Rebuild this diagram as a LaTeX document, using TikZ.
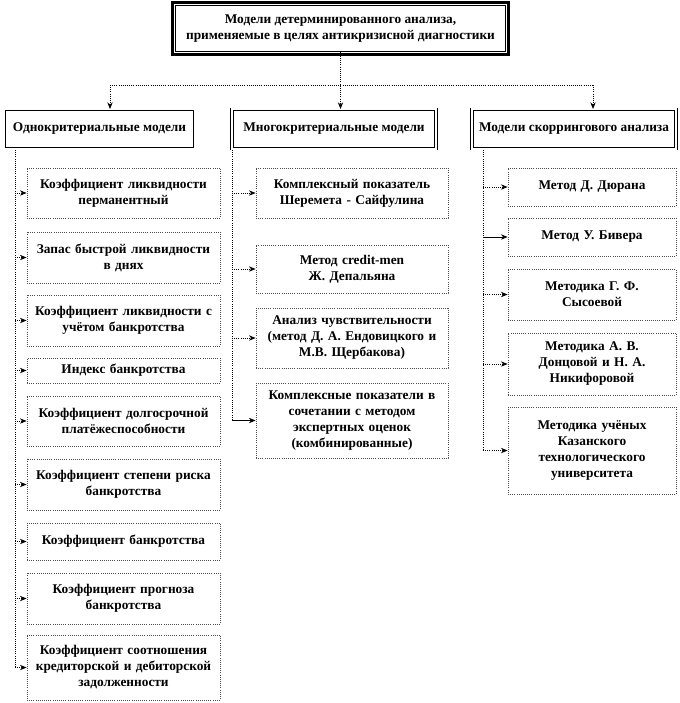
\documentclass[tikz,border=0pt]{standalone}
\usepackage{fontspec}
\setmainfont{Liberation Serif}
\usetikzlibrary{arrows.meta}

\begin{document}
\begin{tikzpicture}[x=0.75pt, y=-0.75pt,
  every node/.style = {font=\fontsize{10}{12}\selectfont\bfseries, align=center, inner sep=2pt},
  headbox/.style = {draw, line width=0.6pt},
  groupbox/.style = {draw, line width=0.5pt, double, double distance=1.4pt,
    minimum width=150pt, minimum height=29.5pt},
  leaf/.style = {draw=black!70, densely dotted, line width=0.6pt},
  leftleaf/.style = {leaf, text width=138pt, minimum width=144.75pt},
  midleaf/.style = {leaf, text width=138pt, minimum width=144pt},
  rightleaf/.style = {leaf, text width=120pt, minimum width=126pt},
  trunk/.style = {densely dotted, line width=0.6pt},
  link/.style = {trunk, -{Stealth[length=5pt,width=4pt]}},
  solidlink/.style = {line width=0.6pt, -{Stealth[length=5pt,width=4pt]}}]
  \useasboundingbox (0,0) rectangle (680,703);

  % top
  \node[headbox, minimum width=247pt, minimum height=34pt] (top) at (340.5,28.5)
    {Модели детерминированного анализа,\\применяемые в целях  антикризисной диагностики};
  \draw[line width=1.8pt] ([shift={(-2.3pt,2.3pt)}]top.north west) rectangle ([shift={(2.3pt,-2.3pt)}]top.south east);

  % groups
  \node[groupbox, minimum width=143pt] (odno) at (99.5,129) {Однокритериальные  модели};
  \node[groupbox, minimum width=153pt] (mnogo) at (334,129) {Многокритериальные модели};
  \node[groupbox, minimum width=153pt] (skor) at (574,129) {Модели скоррингового анализа};

  % single criterion
  \node[leftleaf, minimum height=37.5pt] (l1) at (123.5,193) {Коэффициент ликвидности\\перманентный};
  \node[leftleaf, minimum height=38.25pt] (l2) at (123.5,257.5) {Запас быстрой ликвидности\\в днях};
  \node[leftleaf, minimum height=38.25pt] (l3) at (123.5,320.5) {Коэффициент ликвидности  с\\учётом банкротства};
  \node[leftleaf, minimum height=18.75pt] (l4) at (123.5,370.5) {Индекс  банкротства};
  \node[leftleaf, minimum height=37.5pt] (l5) at (123.5,421) {Коэффициент долгосрочной\\платёжеспособности};
  \node[leftleaf, minimum height=38.25pt] (l6) at (123.5,484.5) {Коэффициент степени риска\\банкротства};
  \node[leftleaf, minimum height=27.75pt] (l7) at (123.5,541.5) {Коэффициент банкротства};
  \node[leftleaf, minimum height=38.25pt] (l8) at (123.5,598.5) {Коэффициент прогноза\\банкротства};
  \node[leftleaf, minimum height=48.75pt] (l9) at (123.5,667.5) {Коэффициент соотношения\\кредиторской и дебиторской\\задолженности};

  % multi criterion
  \node[midleaf, minimum height=37.5pt] (m1) at (352,193) {Комплексный показатель\\Шеремета - Сайфулина};
  \node[midleaf, minimum height=36pt] (m2) at (352,269) {Метод credit-men\\Ж. Депальяна};
  \node[midleaf, minimum height=45pt] (m3) at (352,338) {Анализ чувствительности\\(метод Д. А. Ендовицкого  и\\М.В. Щербакова)};
  \node[midleaf, minimum height=56.25pt] (m4) at (352,420.5) {Комплексные показатели в\\сочетании с методом\\экспертных  оценок\\(комбинированные)};

  % scoring
  \node[rightleaf, minimum height=28.5pt] (r1) at (592,187) {Метод Д. Дюрана};
  \node[rightleaf, minimum height=28.5pt] (r2) at (592,237) {Метод У. Бивера};
  \node[rightleaf, minimum height=38.25pt] (r3) at (592,294.5) {Методика Г. Ф.\\Сысоевой};
  \node[rightleaf, minimum height=46.5pt] (r4) at (592,364) {Методика А. В.\\Донцовой и Н. А.\\Никифоровой};
  \node[rightleaf, minimum height=65.25pt] (r5) at (592,450.5) {Методика учёных\\Казанского\\технологического\\университета};

  % top links
  \coordinate (hl) at (110,85);
  \coordinate (hr) at (593,85);
  \draw[trunk] (hl) -- (hr);
  \draw[link] (top.south) -- (top.south |- mnogo.north);
  \draw[link] (hl) -- (hl |- odno.north);
  \draw[link] (hr) -- (hr |- skor.north);

  % trunks
  \coordinate (lt) at (15,150);
  \coordinate (mt) at (232,150);
  \coordinate (rt) at (483,150);
  \draw[trunk] (lt) -- (lt |- l9.west);
  \draw[trunk] (mt) -- (mt |- m4.west);
  \draw[trunk] (rt) -- (rt |- r5.west);

  \foreach \n in {1,...,9}
    \draw[link] (lt |- l\n.west) -- (l\n.west);
  \foreach \n in {1,2,3}
    \draw[link] (mt |- m\n.west) -- (m\n.west);
  \draw[solidlink] (mt |- m4.west) -- (m4.west);
  \foreach \n in {1,3,4,5}
    \draw[link] (rt |- r\n.west) -- (r\n.west);
  \draw[solidlink] (rt |- r2.west) -- (r2.west);
\end{tikzpicture}
\end{document}
